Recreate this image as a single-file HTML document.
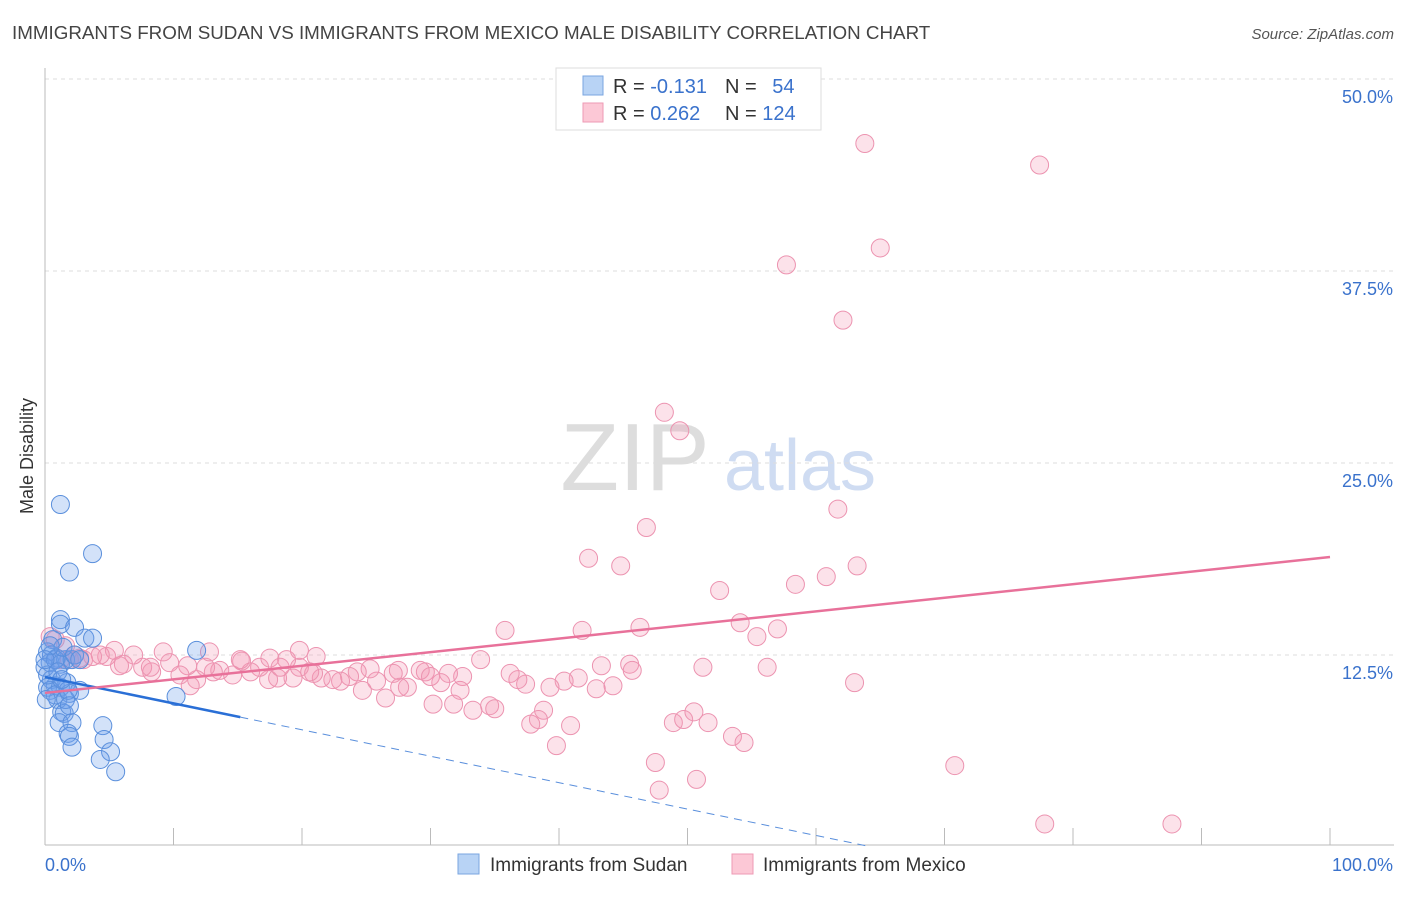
<!DOCTYPE html>
<html><head><meta charset="utf-8"><style>
body{margin:0;background:#fff;font-family:"Liberation Sans",sans-serif;}
svg text{font-family:"Liberation Sans",sans-serif;}
</style></head><body>
<svg id="chart" width="1406" height="892" xmlns="http://www.w3.org/2000/svg">
<text x="12" y="39" font-size="18.8" fill="#444">IMMIGRANTS FROM SUDAN VS IMMIGRANTS FROM MEXICO MALE DISABILITY CORRELATION CHART</text>
<text x="1394" y="39" font-size="15" fill="#555" text-anchor="end" font-style="italic">Source: ZipAtlas.com</text>
<text transform="translate(33,456) rotate(-90)" font-size="18" fill="#333" text-anchor="middle">Male Disability</text>
<g><text x="635" y="490" font-size="96" fill="#ddd" text-anchor="middle" font-family="Liberation Serif">ZIP</text><text x="800" y="490" font-size="72" fill="#cfdcf2" text-anchor="middle">atlas</text></g>
<g id="grid"></g><g id="axes"></g><g id="trends"></g><g id="pts"></g>
<g>
<rect x="556" y="68" width="265" height="62" fill="#fff" stroke="#ddd"/>
<rect x="583" y="76" width="20" height="19" fill="#b8d3f5" stroke="#7aa6e0"/>
<rect x="583" y="103" width="20" height="19" fill="#fcc8d6" stroke="#ee9ab4"/>
<text x="613" y="93" font-size="20" fill="#333">R = <tspan fill="#3a72cc">-0.131</tspan></text>
<text x="725" y="93" font-size="20" fill="#333">N = <tspan fill="#3a72cc" dx="10">54</tspan></text>
<text x="613" y="120" font-size="20" fill="#333">R = <tspan fill="#3a72cc">0.262</tspan></text>
<text x="725" y="120" font-size="20" fill="#333">N = <tspan fill="#3a72cc">124</tspan></text>
</g>
<g>
<rect x="458" y="854" width="21" height="20" fill="#b8d3f5" stroke="#7aa6e0"/>
<text x="490" y="871" font-size="19" fill="#333">Immigrants from Sudan</text>
<rect x="732" y="854" width="21" height="20" fill="#fcc8d6" stroke="#ee9ab4"/>
<text x="763" y="871" font-size="19" fill="#333">Immigrants from Mexico</text>
</g>
</svg>
<script>
const yTicks=[12.5,25,37.5,50];
const yTickLabels=["12.5%","25.0%","37.5%","50.0%"];
const xTicks=[0,10,20,30,40,50,60,70,80,90,100];
const xEndLabels=["0.0%","100.0%"];
const sudan=[[1.2,22.3],[3.7,19.1],[1.9,17.9],[1.2,14.8],[1.2,14.5],[2.3,14.3],[3.1,13.6],[3.7,13.6],[0.6,13.5],[0.2,12.7],[0.5,12.5],[0.9,12.3],[0.4,12.0],[0,11.7],[0.5,10.9],[0.8,10.5],[0.2,10.4],[1.2,10.4],[1.7,10.7],[1.9,10.0],[2.7,10.2],[0.4,10.2],[1.0,9.6],[1.3,8.8],[1.5,8.7],[1.1,8.1],[2.1,8.1],[1.8,7.4],[1.9,7.2],[2.1,6.5],[4.5,7.9],[4.6,7.0],[5.1,6.2],[4.3,5.7],[5.5,4.9],[10.2,9.8],[11.8,12.8],[1.6,12.2],[2.1,12.2],[1.2,11.9],[0.2,11.2],[0.8,9.9],[1.6,9.6],[1.8,10.2],[0.1,9.6],[0.8,12.2],[1.4,13.0],[2.3,12.5],[2.7,12.2],[0.4,13.1],[0,12.2],[1.0,11.4],[1.3,10.9],[1.9,9.2]];
const mexico=[[63.8,45.8],[77.4,44.4],[65.0,39.0],[57.7,37.9],[62.1,34.3],[48.2,28.3],[49.4,27.1],[61.7,22.0],[46.8,20.8],[42.3,18.8],[44.8,18.3],[63.2,18.3],[60.8,17.6],[58.4,17.1],[52.5,16.7],[54.1,14.6],[57.0,14.2],[55.4,13.7],[46.3,14.3],[41.8,14.1],[35.8,14.1],[63.0,10.7],[56.2,11.7],[51.2,11.7],[45.5,11.9],[45.7,11.5],[43.3,11.8],[44.2,10.5],[42.9,10.3],[41.5,11.0],[40.4,10.8],[39.3,10.4],[37.4,10.6],[36.8,10.9],[36.2,11.3],[33.9,12.2],[32.5,11.1],[32.3,10.2],[31.4,11.3],[30.8,10.7],[29.6,11.4],[29.2,11.5],[28.2,10.4],[27.5,11.5],[26.5,9.7],[25.8,10.8],[25.3,11.6],[24.7,10.2],[24.3,11.4],[23.7,11.1],[23.0,10.8],[22.4,10.9],[21.5,11.0],[20.9,11.3],[19.8,11.7],[19.3,11.0],[18.8,12.2],[18.1,11.0],[17.4,10.9],[16.7,11.7],[16.0,11.4],[15.3,12.1],[14.6,11.2],[13.6,11.5],[13.1,11.4],[12.5,11.7],[11.8,10.9],[11.1,11.8],[10.5,11.2],[9.7,12.0],[9.2,12.7],[8.3,11.4],[7.6,11.7],[6.9,12.5],[6.1,11.9],[5.4,12.8],[4.8,12.4],[4.3,12.5],[3.7,12.4],[3.0,12.2],[2.3,12.5],[1.6,13.1],[0.8,13.5],[0.4,13.7],[1.2,12.2],[1.9,12.2],[2.7,12.3],[12.8,12.7],[15.2,12.2],[19.8,12.8],[21.1,12.4],[27.1,11.3],[30.2,9.3],[31.8,9.3],[33.3,8.9],[34.6,9.2],[35.0,9.0],[38.8,8.9],[38.4,8.3],[37.8,8.0],[40.9,7.9],[39.8,6.6],[48.9,8.1],[49.7,8.3],[50.5,8.8],[51.6,8.1],[53.5,7.2],[54.4,6.8],[47.5,5.5],[50.7,4.4],[47.8,3.7],[70.8,5.3],[77.8,1.5],[87.7,1.5],[17.5,12.3],[18.3,11.7],[8.2,11.7],[11.3,10.5],[20.6,11.4],[27.6,10.4],[30.0,11.1],[5.8,11.8]];
const sudanTrend=[11.07,-0.172];
const sudanSolidEnd=15.2, sudanDashEnd=64;
const mexicoTrend=[10.03,0.0885];

const NS="http://www.w3.org/2000/svg";
const X=v=>45+v*12.85, Y=v=>847-v*15.36;
function mk(tag,attrs,parent){const e=document.createElementNS(NS,tag);for(const k in attrs)e.setAttribute(k,attrs[k]);document.getElementById(parent).appendChild(e);return e;}
yTicks.forEach((t,i)=>{
  const l=mk('line',{x1:45,x2:1394,y1:Y(t),y2:Y(t),stroke:'#ddd','stroke-dasharray':'4,4'},'grid');
  
  
  const tx=mk('text',{x:1393,y:Y(t)+24,'font-size':18,fill:'#3a72cc','text-anchor':'end'},'grid');tx.textContent=yTickLabels[i];
  
  
});
const ax=mk('line',{x1:45,x2:1394,y1:845,y2:845,stroke:'#bbb'},'axes');


const ay=mk('line',{x1:45,x2:45,y1:68,y2:845,stroke:'#bbb'},'axes');


xTicks.forEach(t=>{const l=mk('line',{x1:X(t),x2:X(t),y1:828,y2:845,stroke:'#bbb'},'axes');
  
  });
const t0=mk('text',{x:45,y:871,'font-size':18,fill:'#3a72cc'},'axes');t0.textContent=xEndLabels[0];


const t1=mk('text',{x:1393,y:871,'font-size':18,fill:'#3a72cc','text-anchor':'end'},'axes');t1.textContent=xEndLabels[1];


mexico.forEach(p=>{const c=mk('circle',{cx:X(p[0]),cy:Y(p[1]),r:9,fill:'rgba(245,150,180,0.28)',stroke:'#ec93b0','stroke-width':1},'pts');
  
  });
sudan.forEach(p=>{const c=mk('circle',{cx:X(p[0]),cy:Y(p[1]),r:9,fill:'rgba(110,160,235,0.3)',stroke:'#5a8fdc','stroke-width':1},'pts');
  
  });
const sy=x=>sudanTrend[0]+sudanTrend[1]*x, my=x=>mexicoTrend[0]+mexicoTrend[1]*x;
const l1=mk('line',{x1:X(0),y1:Y(sy(0)),x2:X(sudanSolidEnd),y2:Y(sy(sudanSolidEnd)),stroke:'#2a6fd6','stroke-width':2.5},'pts');


const l2=mk('line',{x1:X(sudanSolidEnd),y1:Y(sy(sudanSolidEnd)),x2:X(sudanDashEnd),y2:Y(sy(sudanDashEnd)),stroke:'#5a8fdc','stroke-width':1,'stroke-dasharray':'8,6'},'pts');


const l3=mk('line',{x1:X(0),y1:Y(my(0)),x2:X(100),y2:Y(my(100)),stroke:'#e8719a','stroke-width':2.5},'pts');


</script>
</body></html>
